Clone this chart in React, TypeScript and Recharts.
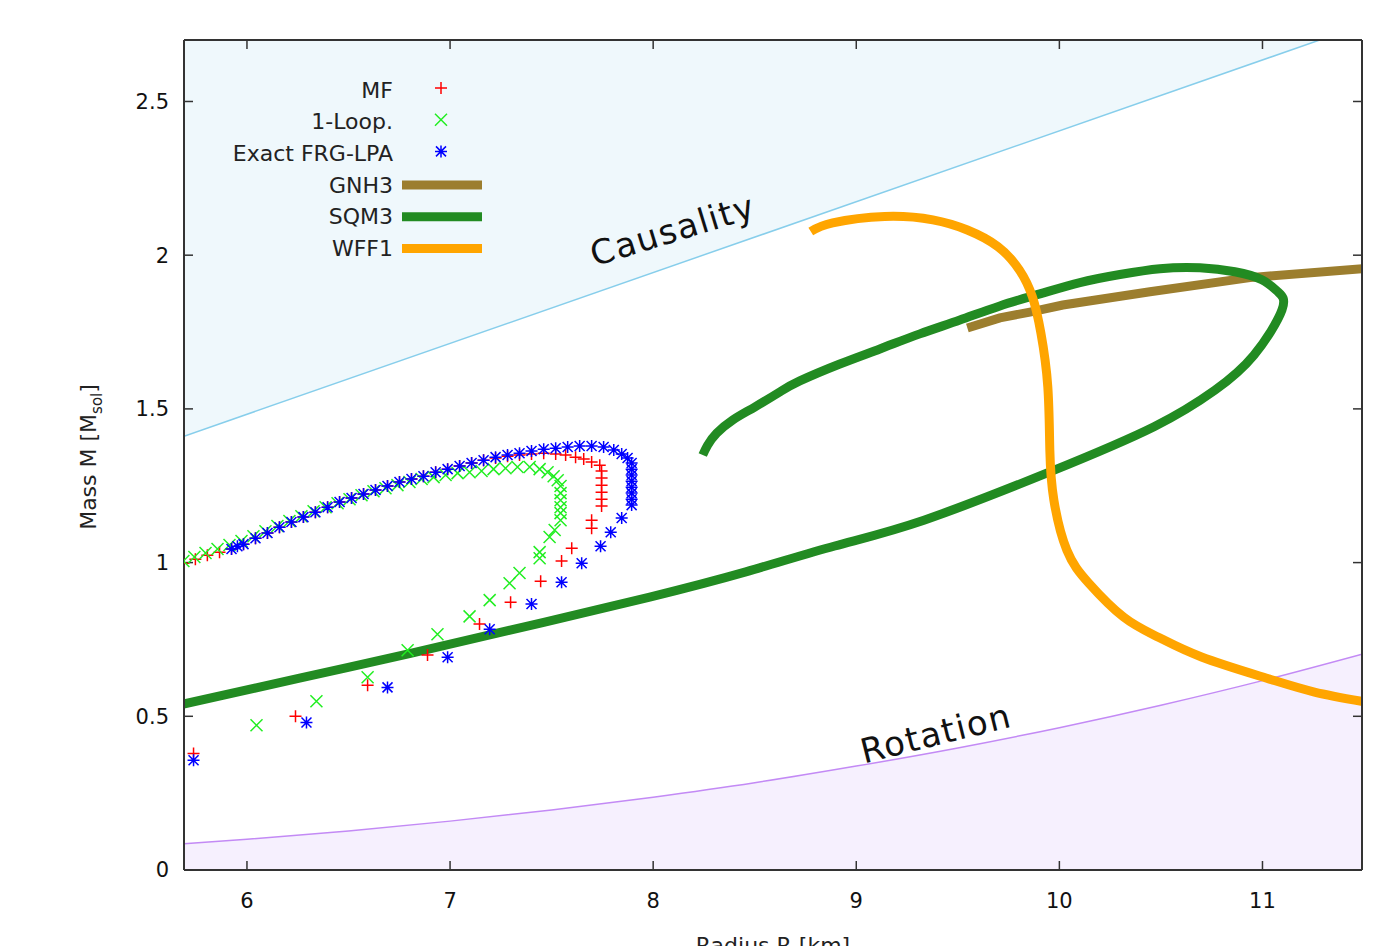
import React from 'react';
import {
  ComposedChart, XAxis, YAxis, Area, Line, Scatter, Legend, ReferenceDot,
} from 'recharts';

const FONT = '"DejaVu Sans", Verdana, sans-serif';

const xTicks = [6, 7, 8, 9, 10, 11];
const yTicks = [0, 0.5, 1, 1.5, 2, 2.5];

// limit curves [R, M]
const causalityLine = [[5.69, 1.411], [11.49, 2.748]];
const rotationLine = [
  [5.69, 0.085], [6.0, 0.1], [6.5, 0.127], [7.0, 0.159], [7.5, 0.195], [8.0, 0.237],
  [8.5, 0.284], [9.0, 0.338], [9.5, 0.397], [10.0, 0.463], [10.5, 0.536], [11.0, 0.616], [11.49, 0.702],
];

// MF
const mfPoints = [
  [5.687, 0.998], [5.746, 1.011], [5.805, 1.024], [5.865, 1.034], [5.924, 1.044], [5.983, 1.06],
  [6.042, 1.079], [6.101, 1.096], [6.16, 1.115], [6.219, 1.132], [6.278, 1.148], [6.337, 1.164],
  [6.397, 1.18], [6.456, 1.197], [6.515, 1.21], [6.574, 1.223], [6.633, 1.236], [6.692, 1.249],
  [6.751, 1.262], [6.81, 1.272], [6.869, 1.281], [6.929, 1.294], [6.988, 1.304], [7.047, 1.314],
  [7.106, 1.324], [7.165, 1.333], [7.224, 1.34], [7.283, 1.346], [7.342, 1.35], [7.401, 1.353],
  [7.461, 1.356], [7.52, 1.353], [7.569, 1.35], [7.618, 1.343], [7.658, 1.337], [7.697, 1.327],
  [7.737, 1.317], [7.746, 1.298], [7.746, 1.275], [7.746, 1.252], [7.746, 1.229], [7.746, 1.206],
  [7.746, 1.184], [7.697, 1.138], [7.697, 1.112], [7.599, 1.047], [7.549, 1.005], [7.446, 0.939],
  [7.298, 0.871], [7.145, 0.8], [6.889, 0.699], [6.594, 0.601], [6.239, 0.5], [5.737, 0.379],
];

// 1-Loop
const loopPoints = [
  [5.687, 1.005], [5.741, 1.018], [5.796, 1.031], [5.855, 1.044], [5.914, 1.057], [5.973, 1.07],
  [6.032, 1.086], [6.091, 1.102], [6.15, 1.119], [6.209, 1.135], [6.268, 1.151], [6.328, 1.167],
  [6.387, 1.18], [6.446, 1.193], [6.505, 1.206], [6.564, 1.219], [6.623, 1.232], [6.682, 1.242],
  [6.741, 1.252], [6.8, 1.262], [6.86, 1.272], [6.919, 1.278], [6.978, 1.285], [7.037, 1.291],
  [7.096, 1.294], [7.155, 1.298], [7.214, 1.304], [7.273, 1.307], [7.332, 1.311], [7.392, 1.311],
  [7.441, 1.304], [7.48, 1.294], [7.51, 1.281], [7.53, 1.268], [7.544, 1.249], [7.544, 1.226],
  [7.544, 1.203], [7.544, 1.18], [7.544, 1.161], [7.544, 1.138], [7.515, 1.106], [7.49, 1.083],
  [7.441, 1.034], [7.441, 1.014], [7.342, 0.966], [7.293, 0.933], [7.195, 0.878], [7.096, 0.825],
  [6.938, 0.767], [6.791, 0.715], [6.594, 0.627], [6.342, 0.549], [6.047, 0.471],
];

// Exact FRG-LPA
const frgPoints = [
  [5.924, 1.044], [5.953, 1.053], [5.983, 1.06], [6.042, 1.079], [6.101, 1.096], [6.16, 1.115],
  [6.219, 1.132], [6.278, 1.148], [6.337, 1.164], [6.397, 1.18], [6.456, 1.197], [6.515, 1.21],
  [6.574, 1.223], [6.633, 1.236], [6.692, 1.249], [6.751, 1.262], [6.81, 1.272], [6.869, 1.281],
  [6.929, 1.294], [6.988, 1.304], [7.047, 1.314], [7.106, 1.324], [7.165, 1.333], [7.224, 1.343],
  [7.283, 1.35], [7.342, 1.356], [7.401, 1.363], [7.461, 1.369], [7.52, 1.372], [7.579, 1.376],
  [7.638, 1.379], [7.697, 1.379], [7.756, 1.376], [7.806, 1.366], [7.845, 1.353], [7.874, 1.34],
  [7.894, 1.324], [7.894, 1.304], [7.894, 1.285], [7.894, 1.265], [7.894, 1.245], [7.894, 1.226],
  [7.894, 1.206], [7.894, 1.187], [7.845, 1.145], [7.791, 1.099], [7.741, 1.053], [7.648, 0.998],
  [7.549, 0.936], [7.401, 0.865], [7.195, 0.783], [6.988, 0.692], [6.692, 0.594], [6.293, 0.48],
  [5.737, 0.357],
];

const gnh3Line = [
  [9.547, 1.763], [9.707, 1.796], [9.855, 1.815], [10.017, 1.838], [10.446, 1.881], [10.938, 1.927], [11.495, 1.956],
];

const sqm3Line = [
  [5.687, 0.54], [6.259, 0.624], [6.8, 0.704], [7.392, 0.795], [7.983, 0.888], [8.456, 0.97],
  [8.894, 1.054], [9.333, 1.138], [9.953, 1.295], [10.466, 1.442], [10.766, 1.561], [10.958, 1.675],
  [11.096, 1.822], [11.076, 1.881], [10.997, 1.92], [10.864, 1.946], [10.692, 1.959], [10.495, 1.956],
  [10.298, 1.937], [10.101, 1.911], [9.904, 1.874], [9.707, 1.835], [9.51, 1.789], [9.313, 1.744],
  [9.116, 1.695], [8.919, 1.646], [8.722, 1.591], [8.623, 1.555], [8.5, 1.506], [8.392, 1.464],
  [8.313, 1.421], [8.268, 1.382], [8.244, 1.35],
];

const wff1Line = [
  [8.776, 2.077], [8.884, 2.105], [9.14, 2.126], [9.377, 2.115], [9.547, 2.082], [9.697, 2.028],
  [9.803, 1.952], [9.867, 1.865], [9.909, 1.747], [9.943, 1.572], [9.953, 1.366], [9.973, 1.203],
  [10.037, 1.04], [10.145, 0.933], [10.316, 0.823], [10.485, 0.758], [10.7, 0.693], [11.021, 0.624],
  [11.256, 0.579], [11.512, 0.546],
];

const toRows = (pts: number[][]) => pts.map(([r, m]) => ({ r, m }));

const C_MF = '#ff0000';
const C_LOOP = '#22ee22';
const C_FRG = '#0000ff';
const C_GNH3 = '#9c7e2e';
const C_SQM3 = '#228b22';
const C_WFF1 = '#ffa500';

const Plus = ({ cx, cy, color }: any) => (
  <path d={`M${cx - 6},${cy}h12M${cx},${cy - 6}v12`} stroke={color} strokeWidth={1.5} fill="none" />
);
const Cross = ({ cx, cy, color }: any) => (
  <path d={`M${cx - 6},${cy - 6}l12,12M${cx - 6},${cy + 6}l12,-12`} stroke={color} strokeWidth={1.5} fill="none" />
);
const Star = ({ cx, cy, color }: any) => (
  <path
    d={`M${cx - 6},${cy}h12M${cx},${cy - 6}v12M${cx - 5},${cy - 5}l10,10M${cx - 5},${cy + 5}l10,-10`}
    stroke={color} strokeWidth={1.5} fill="none"
  />
);

const legendItems = [
  { name: 'MF', kind: 'plus', color: C_MF },
  { name: '1-Loop.', kind: 'cross', color: C_LOOP },
  { name: 'Exact FRG-LPA', kind: 'star', color: C_FRG },
  { name: 'GNH3', kind: 'line', color: C_GNH3 },
  { name: 'SQM3', kind: 'line', color: C_SQM3 },
  { name: 'WFF1', kind: 'line', color: C_WFF1 },
];

const LegendBox = () => (
  <svg width={500} height={270} style={{ display: 'block' }}>
    {legendItems.map((it, i) => {
      const y = 90 + i * 31.7;
      let mark;
      if (it.kind === 'plus') mark = <Plus cx={441} cy={y - 2} color={it.color} />;
      else if (it.kind === 'cross') mark = <Cross cx={441} cy={y - 2} color={it.color} />;
      else if (it.kind === 'star') mark = <Star cx={441} cy={y - 2} color={it.color} />;
      else mark = <line x1={402} x2={482} y1={y} y2={y} stroke={it.color} strokeWidth={9} />;
      return (
        <g key={it.name}>
          <text x={393} y={y} textAnchor="end" dominantBaseline="central" fontFamily={FONT} fontSize={22} fill="#222">
            {it.name}
          </text>
          {mark}
        </g>
      );
    })}
  </svg>
);

const axisStroke = { stroke: '#333', strokeWidth: 2 };
const tickStroke = { stroke: '#333', strokeWidth: 1.5 };
const tickFont = { fontFamily: FONT, fontSize: 21, fill: '#111' };

export default function App() {
  return (
    <div style={{ position: 'absolute', left: 0, top: 0, width: 1400, height: 946, background: '#fff' }}>
      <ComposedChart width={1400} height={946} margin={{ top: 39, right: 37, bottom: 36, left: 124 }}>
        <XAxis
          xAxisId={0}
          dataKey="r"
          type="number"
          domain={[5.69, 11.49]}
          ticks={xTicks}
          allowDataOverflow
          height={40}
          axisLine={axisStroke}
          tickLine={tickStroke}
          tickSize={-9}
          tickMargin={32}
          tick={tickFont}
          label={{
            content: () => (
              <text x={773} y={953} textAnchor="middle" fontFamily={FONT} fontSize={22} fill="#222">
                Radius R [km]
              </text>
            ),
          }}
        />
        <XAxis
          xAxisId="top"
          orientation="top"
          dataKey="r"
          type="number"
          domain={[5.69, 11.49]}
          ticks={xTicks}
          allowDataOverflow
          height={1}
          axisLine={axisStroke}
          tickLine={tickStroke}
          tickSize={-9}
          tickFormatter={() => ''}
        />
        <YAxis
          yAxisId={0}
          dataKey="m"
          type="number"
          domain={[0, 2.7]}
          ticks={yTicks}
          allowDataOverflow
          width={60}
          axisLine={axisStroke}
          tickLine={tickStroke}
          tickSize={-9}
          tickMargin={24}
          tick={tickFont}
          label={{
            content: () => (
              <text
                x={88}
                y={457}
                transform="rotate(-90 88 457)"
                textAnchor="middle"
                dominantBaseline="central"
                fontFamily={FONT}
                fontSize={22}
                fill="#222"
              >
                Mass M [M<tspan baselineShift="sub" fontSize={15}>sol</tspan>]
              </text>
            ),
          }}
        />
        <YAxis
          yAxisId="right"
          orientation="right"
          dataKey="m"
          type="number"
          domain={[0, 2.7]}
          ticks={yTicks}
          allowDataOverflow
          width={1}
          axisLine={axisStroke}
          tickLine={tickStroke}
          tickSize={-9}
          tickFormatter={() => ''}
        />

        <Area
          data={causalityLine.map(([r, m]) => ({ r, band: [m, 3] }))}
          dataKey="band"
          type="linear"
          stroke="#87ceeb"
          strokeWidth={1.5}
          fill="#eff8fc"
          fillOpacity={1}
          isAnimationActive={false}
          legendType="none"
        />
        <Area
          data={toRows(rotationLine)}
          dataKey="m"
          type="monotone"
          stroke="#c38af5"
          strokeWidth={1.5}
          fill="#f6f0fe"
          fillOpacity={1}
          baseValue={0}
          isAnimationActive={false}
          legendType="none"
        />

        <Scatter name="MF" data={toRows(mfPoints)} dataKey="m" isAnimationActive={false}
          shape={(p: any) => <Plus cx={p.cx} cy={p.cy} color={C_MF} />} />
        <Scatter name="1-Loop." data={toRows(loopPoints)} dataKey="m" isAnimationActive={false}
          shape={(p: any) => <Cross cx={p.cx} cy={p.cy} color={C_LOOP} />} />
        <Scatter name="Exact FRG-LPA" data={toRows(frgPoints)} dataKey="m" isAnimationActive={false}
          shape={(p: any) => <Star cx={p.cx} cy={p.cy} color={C_FRG} />} />

        <Line name="GNH3" data={toRows(gnh3Line)} dataKey="m" type="linear" stroke={C_GNH3}
          strokeWidth={9} dot={false} isAnimationActive={false} />
        <Line name="SQM3" data={toRows(sqm3Line)} dataKey="m" type="natural" stroke={C_SQM3}
          strokeWidth={9} dot={false} isAnimationActive={false} />
        <Line name="WFF1" data={toRows(wff1Line)} dataKey="m" type="natural" stroke={C_WFF1}
          strokeWidth={9} dot={false} isAnimationActive={false} />

        <ReferenceDot
          x={8.096}
          y={2.082}
          r={0}
          ifOverflow="visible"
          shape={(p: any) => (
            <text
              x={p.cx}
              y={p.cy}
              transform={`rotate(-17 ${p.cx} ${p.cy})`}
              textAnchor="middle"
              dominantBaseline="central"
              fontFamily={FONT}
              fontSize={34}
              letterSpacing={1.5}
              fill="#111"
            >
              Causality
            </text>
          )}
        />
        <ReferenceDot
          x={9.392}
          y={0.445}
          r={0}
          ifOverflow="visible"
          shape={(p: any) => (
            <text
              x={p.cx}
              y={p.cy}
              transform={`rotate(-14 ${p.cx} ${p.cy})`}
              textAnchor="middle"
              dominantBaseline="central"
              fontFamily={FONT}
              fontSize={34}
              letterSpacing={1.5}
              fill="#111"
            >
              Rotation
            </text>
          )}
        />

        <Legend
          layout="vertical"
          align="center"
          verticalAlign="middle"
          wrapperStyle={{ position: 'absolute', left: 0, top: 0, width: 500, height: 270 }}
          content={() => <LegendBox />}
        />
      </ComposedChart>
    </div>
  );
}
